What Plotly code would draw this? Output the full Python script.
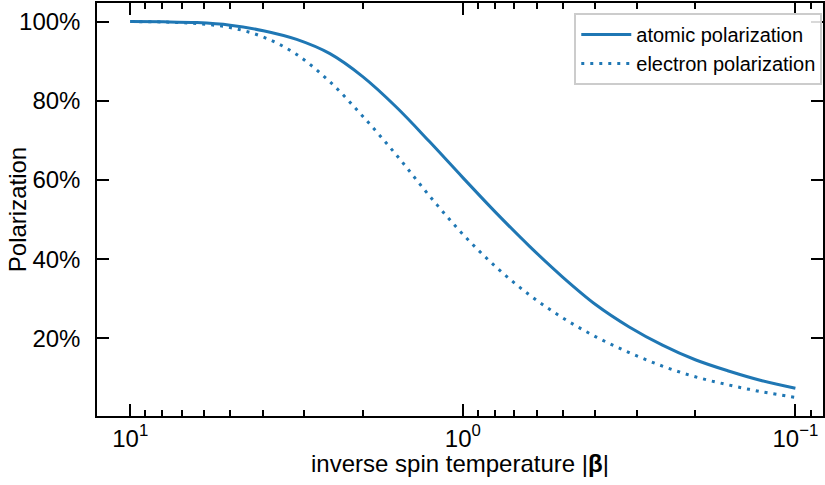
import plotly.graph_objects as go

# inverse spin temperature |beta| (0.1-decade steps from 10 down to 0.1)
beta = [10.0, 7.94, 6.31, 5.01, 3.98, 3.16, 2.51, 2.0, 1.58, 1.26, 1.0,
        0.794, 0.631, 0.501, 0.398, 0.316, 0.251, 0.2, 0.158, 0.126, 0.1]
atomic = [1.000, 0.9995, 0.9975, 0.991, 0.977, 0.955, 0.919, 0.861, 0.783, 0.697, 0.606,
          0.517, 0.433, 0.355, 0.285, 0.229, 0.183, 0.146, 0.117, 0.093, 0.074]
electron = [1.000, 0.999, 0.995, 0.985, 0.961, 0.917, 0.848, 0.761, 0.662, 0.560, 0.463,
            0.380, 0.310, 0.252, 0.204, 0.164, 0.130, 0.103, 0.082, 0.065, 0.051]

x_major = [10, 1, 0.1]
x_major_text = ["10<sup>1</sup>", "10<sup>0</sup>", "10<sup>\u22121</sup>"]
x_minor = [m * 10.0 ** k for k in (-2, -1, 0) for m in range(2, 10)]
y_ticks = [0.2, 0.4, 0.6, 0.8, 1.0]

blue = "#1f77b4"
font = "Liberation Sans, Arial, Helvetica, sans-serif"

fig = go.Figure()
fig.add_trace(go.Scatter(x=beta, y=atomic, mode="lines", name="atomic polarization",
                         line=dict(color=blue, width=3, shape="spline", smoothing=1)))
fig.add_trace(go.Scatter(x=beta, y=electron, mode="lines", name="electron polarization",
                         line=dict(color=blue, width=3, dash="3px,6px", shape="spline", smoothing=1)))

axis_common = dict(showgrid=False, zeroline=False, showline=True, linecolor="black", linewidth=1.5,
                   mirror="ticks", ticks="inside", tickcolor="black", tickwidth=1.5, ticklen=12,
                   tickfont=dict(family=font, size=24, color="black"))

fig.update_xaxes(type="log", range=[1.1, -1.083], tickvals=x_major, ticktext=x_major_text,
                 minor=dict(tickvals=x_minor, ticks="inside", ticklen=6, tickwidth=1.5, tickcolor="black"),
                 ticklabelstandoff=0, **axis_common)
fig.update_yaxes(range=[0.004, 1.047], tickvals=y_ticks, tickformat=".0%",
                 ticklabelstandoff=10, **axis_common)

fig.add_annotation(text="inverse spin temperature |<b>\u03b2</b>|", xref="paper", yref="paper",
                   x=0.5, y=-0.1162, xanchor="center", yanchor="middle", showarrow=False,
                   font=dict(family=font, size=24, color="black"))
fig.add_annotation(text="Polarization", xref="paper", yref="paper", textangle=-90,
                   x=-0.1092, y=0.5, xanchor="center", yanchor="middle", showarrow=False,
                   font=dict(family=font, size=24, color="black"))

fig.update_layout(width=825, height=485, margin=dict(l=97, r=0, t=3, b=69),
                  plot_bgcolor="white", paper_bgcolor="white",
                  font=dict(family=font, color="black"),
                  legend=dict(x=0.999, y=0.976, xanchor="right", yanchor="top", itemwidth=50,
                              bgcolor="rgba(255,255,255,0.85)", bordercolor="#cccccc", borderwidth=2,
                              font=dict(family=font, size=20, color="black")))

fig.write_html("out.html")
